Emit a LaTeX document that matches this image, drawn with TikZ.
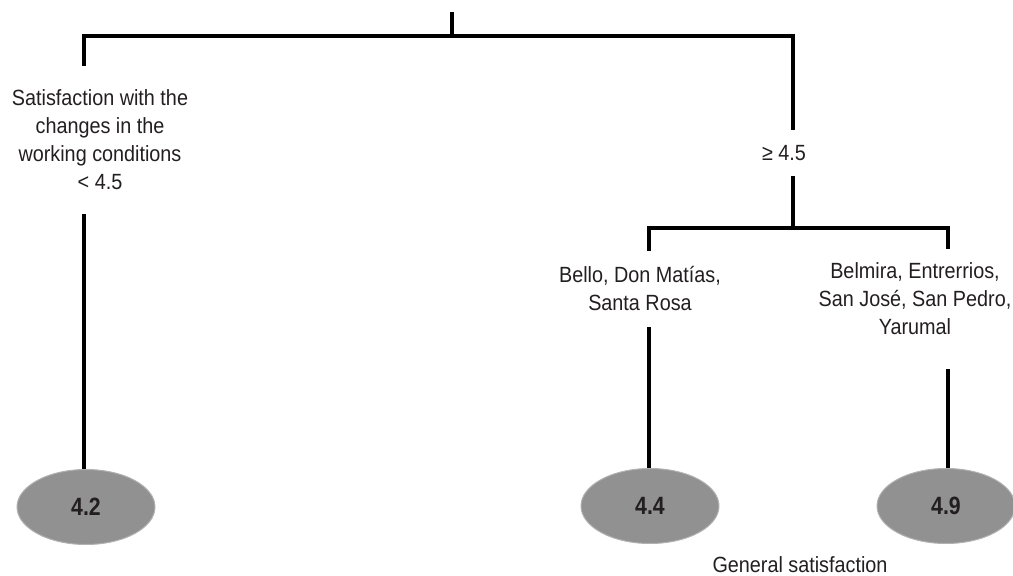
\documentclass[tikz,border=0pt]{standalone}
\usepackage{fontspec}
\setmainfont{Liberation Sans}[FakeStretch=0.9]
\usetikzlibrary{shapes.geometric, positioning}
\definecolor{leafgray}{RGB}{145,145,145}
\definecolor{inkdark}{RGB}{35,31,32}

\begin{document}
\begin{tikzpicture}[x=1pt, y=-1pt, line width=4.5pt,
    font=\fontsize{22}{28}\selectfont, text=inkdark,
    cond/.style={align=center, inner xsep=0pt, inner ysep=#1},
    cond/.default=15pt,
    leaf/.style={ellipse, fill=leafgray, draw=leafgray!70, line width=1pt,
      minimum width=138pt, minimum height=75pt,
      inner sep=0pt, font=\addfontfeatures{FakeStretch=0.85}\fontsize{25}{25}\selectfont\bfseries}]
  \useasboundingbox (0,0) rectangle (1013,576);
  \coordinate (root) at (452,12);
  \coordinate (s0) at (452,36);
  \coordinate (s0l) at (84,36);
  \coordinate (s0r) at (793,36);
  \coordinate (s1) at (793,228);
  \coordinate (s1l) at (649,228);
  \coordinate (s1r) at (948,228);
  \node[cond=22pt] (low) at (100,140) {Satisfaction with the\\changes in the\\working conditions\\< 4.5};
  \node[cond=13pt] (high) at (784,153) {≥ 4.5};
  \node[cond=14pt] (bello) at (640,289) {Bello, Don Matías,\\Santa Rosa};
  \node[cond=12pt] (belmira) at (915,299) {Belmira, Entrerrios,\\San José, San Pedro,\\Yarumal};
  \node[leaf] (e42) at (86,507) {4.2};
  \node[leaf] (e44) at (650,506) {4.4};
  \node[leaf] (e49) at (946,506) {4.9};
  \node (title) at (800,565) {General satisfaction};
  \draw (root) -- (s0);
  \draw (low.north -| s0l) -- (s0l) -- (s0r) -- (high.north -| s0r);
  \draw (low.south -| s0l) -- (e42.north -| s0l);
  \draw (high.south -| s1) -- (s1);
  \draw (bello.north -| s1l) -- (s1l) -- (s1r) -- (belmira.north -| s1r);
  \draw (bello.south -| s1l) -- (e44.north -| s1l);
  \draw[shorten <=20pt] (belmira.south -| s1r) -- (e49.north -| s1r);
\end{tikzpicture}
\end{document}
